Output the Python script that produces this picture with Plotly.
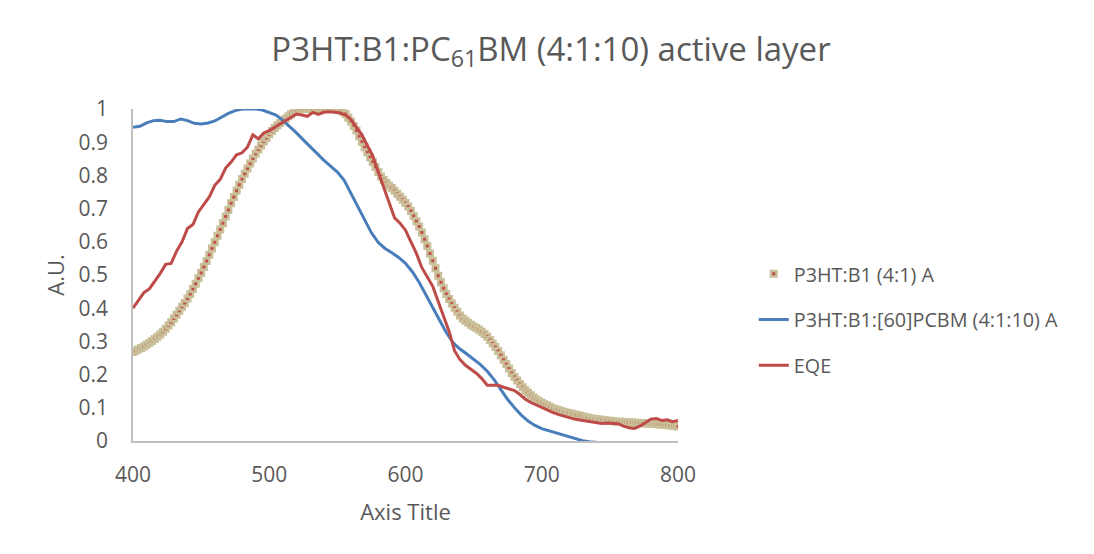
import plotly.graph_objects as go

# ---- data ----
abs_b1_x = list(range(400, 801, 2))
abs_b1_y = [
    0.268, 0.272, 0.276, 0.280, 0.285, 0.290, 0.295, 0.301, 0.307, 0.314,
    0.321, 0.329, 0.338, 0.348, 0.358, 0.369, 0.380, 0.392, 0.404, 0.416,
    0.429, 0.443, 0.458, 0.474, 0.490, 0.506, 0.524, 0.542, 0.561, 0.580,
    0.599, 0.618, 0.637, 0.656, 0.676, 0.696, 0.716, 0.735, 0.754, 0.772,
    0.789, 0.805, 0.821, 0.836, 0.851, 0.865, 0.878, 0.890, 0.902, 0.913,
    0.924, 0.934, 0.943, 0.951, 0.958, 0.965, 0.971, 0.978, 0.984, 0.990,
    0.995, 0.998, 1.000, 1.000, 1.000, 1.000, 1.000, 1.000, 1.000, 1.000,
    1.000, 1.000, 1.000, 1.000, 1.000, 0.999, 0.997, 0.992, 0.985, 0.974,
    0.962, 0.949, 0.935, 0.918, 0.901, 0.885, 0.870, 0.855, 0.840, 0.825,
    0.810, 0.797, 0.786, 0.777, 0.769, 0.762, 0.754, 0.745, 0.736, 0.727,
    0.717, 0.706, 0.693, 0.678, 0.662, 0.646, 0.628, 0.608, 0.587, 0.565,
    0.543, 0.520, 0.498, 0.478, 0.460, 0.443, 0.428, 0.414, 0.401, 0.389,
    0.378, 0.369, 0.362, 0.356, 0.350, 0.345, 0.340, 0.335, 0.329, 0.322,
    0.314, 0.304, 0.294, 0.283, 0.271, 0.258, 0.245, 0.231, 0.218, 0.205,
    0.193, 0.182, 0.172, 0.162, 0.153, 0.145, 0.138, 0.131, 0.125, 0.120,
    0.115, 0.111, 0.107, 0.103, 0.099, 0.096, 0.093, 0.090, 0.088, 0.086,
    0.084, 0.082, 0.080, 0.078, 0.076, 0.074, 0.072, 0.070, 0.068, 0.067,
    0.066, 0.065, 0.064, 0.063, 0.062, 0.061, 0.060, 0.059, 0.058, 0.058,
    0.057, 0.057, 0.056, 0.056, 0.055, 0.055, 0.054, 0.054, 0.053, 0.053,
    0.052, 0.052, 0.051, 0.050, 0.050, 0.049, 0.048, 0.047, 0.046, 0.045,
    0.044,
]

pcbm_x = list(range(400, 756, 5))
pcbm_y = [
    0.945, 0.948, 0.958, 0.965, 0.966, 0.962, 0.962, 0.970, 0.965, 0.957,
    0.955, 0.958, 0.964, 0.975, 0.987, 0.995, 1.000, 1.000, 1.000, 0.997,
    0.990, 0.982, 0.966, 0.948, 0.928, 0.907, 0.886, 0.865, 0.846, 0.828,
    0.810, 0.785, 0.746, 0.705, 0.664, 0.627, 0.598, 0.580, 0.567, 0.553,
    0.535, 0.510, 0.478, 0.440, 0.398, 0.360, 0.326, 0.296, 0.277, 0.262,
    0.246, 0.230, 0.210, 0.185, 0.155, 0.125, 0.100, 0.078, 0.060, 0.047,
    0.037, 0.031, 0.025, 0.018, 0.011, 0.005, 0.001, -0.002, -0.004, -0.006,
    -0.008, -0.010,
]

eqe_x = list(range(400, 801, 4))
eqe_y = [
    0.400, 0.425, 0.447, 0.458, 0.480, 0.505, 0.532, 0.535, 0.572, 0.600,
    0.640, 0.652, 0.690, 0.712, 0.735, 0.770, 0.788, 0.822, 0.840, 0.862,
    0.868, 0.885, 0.922, 0.910, 0.928, 0.935, 0.945, 0.955, 0.966, 0.975,
    0.985, 0.982, 0.978, 0.990, 0.984, 0.990, 0.992, 0.990, 0.988, 0.982,
    0.968, 0.945, 0.922, 0.890, 0.858, 0.810, 0.765, 0.715, 0.672, 0.656,
    0.635, 0.600, 0.565, 0.522, 0.492, 0.466, 0.420, 0.372, 0.330, 0.272,
    0.245, 0.228, 0.215, 0.204, 0.188, 0.168, 0.168, 0.168, 0.162, 0.157,
    0.152, 0.140, 0.126, 0.116, 0.108, 0.100, 0.093, 0.086, 0.080, 0.075,
    0.070, 0.066, 0.063, 0.060, 0.057, 0.055, 0.053, 0.054, 0.053, 0.052,
    0.045, 0.040, 0.038, 0.045, 0.055, 0.066, 0.068, 0.062, 0.064, 0.058,
    0.062,
]

names = ["P3HT:B1 (4:1) A", "P3HT:B1:[60]PCBM (4:1:10) A", "EQE"]
x_ticks = [400, 500, 600, 700, 800]

FONT = "Open Sans"
GREY = "#595959"

fig = go.Figure()
fig.add_trace(go.Scatter(
    x=abs_b1_x, y=abs_b1_y, name=names[0], mode="markers", legendgroup="a",
    marker=dict(symbol="square", size=5.5, color="#C0504D",
                line=dict(color="#C9BF98", width=2.5)),
))
fig.add_trace(go.Scatter(
    x=pcbm_x, y=pcbm_y, name=names[1], mode="lines", legendgroup="b",
    line=dict(color="#4A7EBB", width=3),
))
fig.add_trace(go.Scatter(
    x=eqe_x, y=eqe_y, name=names[2], mode="lines", legendgroup="c",
    line=dict(color="#BE4B48", width=3),
))

fig.update_layout(
    width=1086, height=546,
    paper_bgcolor="white", plot_bgcolor="white",
    margin=dict(l=125, r=416, t=101, b=113),
    font=dict(family=FONT, color=GREY, size=18),
    title=dict(text="P3HT:B1:PC<sub>61</sub>BM (4:1:10) active layer",
               x=0.5, xref="container", xanchor="center",
               y=0.925, yref="container", yanchor="middle",
               font=dict(size=33, color=GREY, family=FONT)),
    showlegend=True,
    legend=dict(x=1.139, xanchor="left", y=0.3645, yanchor="middle",
                traceorder="grouped", tracegroupgap=17,
                font=dict(size=19.8, color=GREY, family=FONT),
                bgcolor="rgba(0,0,0,0)"),
    xaxis=dict(range=[400, 800], tickvals=x_ticks, showgrid=False,
               zeroline=False, showline=True, linecolor="#BFBFBF",
               linewidth=1.5, ticks="outside", ticklen=14,
               tickcolor="rgba(0,0,0,0)", tickfont=dict(size=21),
               title=dict(text="Axis Title", standoff=18,
                          font=dict(size=22, color=GREY))),
    yaxis=dict(range=[0, 1], dtick=0.1, showgrid=False, zeroline=False,
               showline=True, linecolor="#BFBFBF", linewidth=1.5,
               ticks="outside", ticklen=19, tickcolor="rgba(0,0,0,0)",
               tickfont=dict(size=21),
               title=dict(text="A.U.", standoff=8,
                          font=dict(size=22, color=GREY))),
)

fig.write_html("out.html")
